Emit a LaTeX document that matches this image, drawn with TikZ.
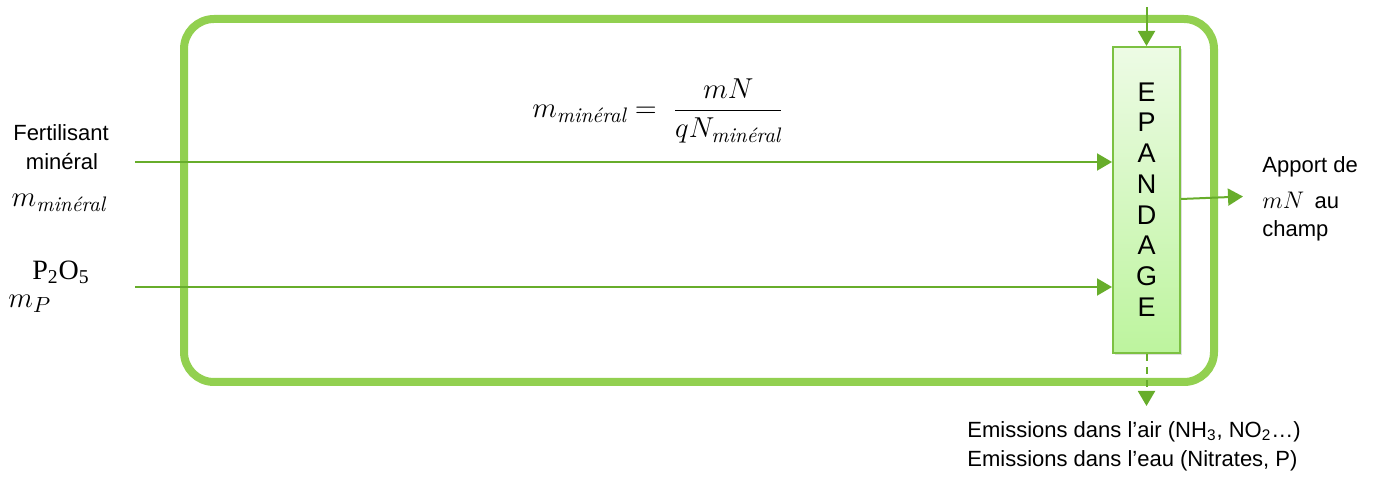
\documentclass[tikz,border=0pt]{standalone}
\usepackage{amsmath}
\usepackage{fontspec}
\setmainfont{Liberation Sans}
\newfontfamily\timesf{Liberation Serif}
\newfontfamily\lmrom{Latin Modern Roman}
\newcommand{\mnl}{\text{\lmrom\itshape minéral}}
\usetikzlibrary{arrows.meta,shadows}
\definecolor{frame}{HTML}{92D050}
\definecolor{arr}{HTML}{67AD2B}
\definecolor{boxtop}{HTML}{EDFBE5}
\definecolor{boxbot}{HTML}{BDF49E}
\definecolor{boxline}{HTML}{7CC142}
\tikzset{
  flow/.style={draw=arr, line width=1pt, -{Triangle[width=8.5pt,length=7.5pt]}},
  lbl/.style={font=\fontsize{11}{15}\selectfont, inner sep=0pt},
  mathlbl/.style={font=\fontsize{15}{17}\selectfont, inner sep=0pt},
  epbox/.style={draw=boxline, line width=1pt, top color=boxtop, bottom color=boxbot,
    minimum width=33.5pt, minimum height=153pt, inner sep=0pt,
    drop shadow={shadow xshift=1.2pt, shadow yshift=-1.2pt, opacity=0.25}},
}
\begin{document}
\begin{tikzpicture}[x=0.5pt,y=-0.5pt]
\useasboundingbox (0,0) rectangle (1376,480);
% frame
\draw[frame, line width=4pt, rounded corners=15pt] (184,19) rectangle (1214,382);
% box
\node[epbox] (ep) at (1146.5,200) {};
\foreach \l/\yy in {E/92,P/122.7,A/153.4,N/184.1,D/214.8,A/245.5,G/276.2,E/307}
  \node[font=\fontsize{13.5}{16}\selectfont, inner sep=0pt] at (1146.5,\yy) {\l};
% coordinates
\coordinate (topin) at (1146.5,7);
\coordinate (in1) at (135,162);
\coordinate (in2) at (135,287);
\coordinate (out) at (1243,196.5);
\coordinate (emis) at (1146.5,406);
% arrows
\draw[flow] (topin) -- (ep.north);
\draw[flow] (in1) -- (ep.west |- in1);
\draw[flow] (in2) -- (ep.west |- in2);
\draw[flow] (ep.east |- 0,199) -- (out);
\draw[flow, dash pattern=on 3.5pt off 3pt] (ep.south) -- (emis);
% labels
\node[lbl] (fert) at (61,133) {Fertilisant};
\node[lbl] (min) at (62,162) {minéral};
\node[mathlbl] (mmin) at (59,203) {$m_{\mnl}$};
\node[inner sep=0pt, font=\timesf\fontsize{14}{17}\selectfont] (p2o5) at (61,272) {P\textsubscript{2}O\textsubscript{5}};
\node[mathlbl, anchor=west] (mp) at (8,304) {$m_P$};
\node[mathlbl] (formula) at (658,111) {$m_{\mnl} = \;\dfrac{mN}{qN_{\mnl}}$};
\node[lbl, anchor=west] (app1) at (1262,167) {Apport de};
\node[lbl, anchor=west] (app2) at (1262,200) {\fontsize{13}{15}\selectfont$mN$\,\fontsize{11}{15}\selectfont\ au};
\node[lbl, anchor=west] (app3) at (1262,231) {champ};
\node[lbl, anchor=west] (em1) at (967,432) {Emissions dans l’air (NH\textsubscript{3}, NO\textsubscript{2}…)};
\node[lbl, anchor=west] (em2) at (967,461) {Emissions dans l’eau (Nitrates, P)};
\end{tikzpicture}
\end{document}
